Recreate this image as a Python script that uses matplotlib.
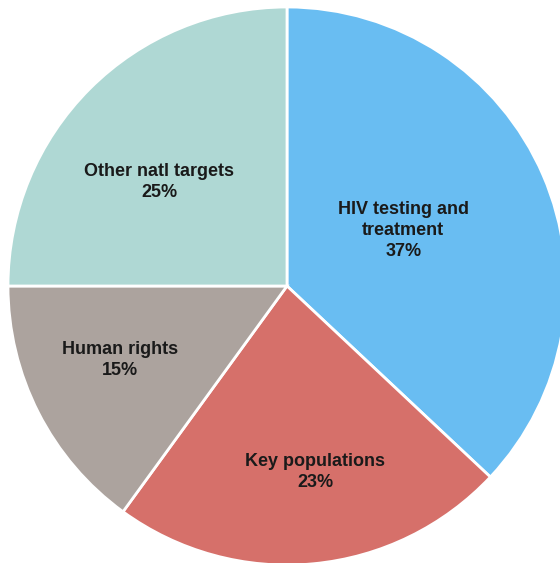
import numpy as np
import matplotlib
matplotlib.use("Agg")
import matplotlib.pyplot as plt

categories = ["HIV testing and\ntreatment", "Key populations", "Human rights", "Other natl targets"]
values = [37, 23, 15, 25]
colors = ["#69bdf2", "#d6706a", "#aca39e", "#afd8d4"]
label_radii = [0.462, 0.674, 0.655, 0.59]
label_angle_shift = [2.2, 3.2, -3, 6]

W, H, DPI = 560, 563, 100
cx, cy, R = 287, 286, 279

fig = plt.figure(figsize=(W / DPI, H / DPI), dpi=DPI)
ax = fig.add_axes([0, 0, 1, 1])
wedges, _ = ax.pie(values, colors=colors, startangle=90, counterclock=False,
                   wedgeprops=dict(edgecolor="white", linewidth=2))
ax.set_aspect("auto")
ax.set_xlim(-cx / R, (W - cx) / R)
ax.set_ylim(-(H - cy) / R, cy / R)
ax.axis("off")

for w, cat, v, r, sh in zip(wedges, categories, values, label_radii, label_angle_shift):
    ang = np.deg2rad((w.theta1 + w.theta2) / 2 + sh)
    ax.text(r * np.cos(ang), r * np.sin(ang), f"{cat}\n{v}%", ha="center", va="center",
            fontsize=13, fontweight="bold", family=["Liberation Sans", "DejaVu Sans"],
            color="#1a1a1a", linespacing=1.3)

fig.savefig("out.png", dpi=DPI)
